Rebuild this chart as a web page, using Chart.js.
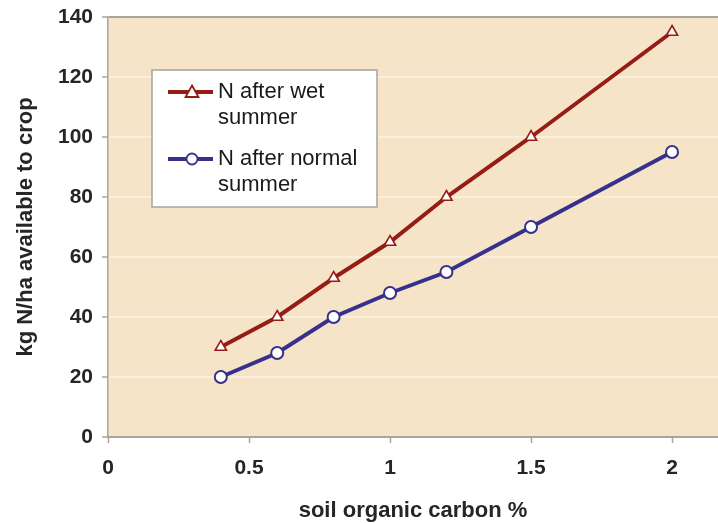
<!DOCTYPE html>
<html>
<head>
<meta charset="utf-8">
<title>Soil organic carbon and available N</title>
<script src="https://cdn.jsdelivr.net/npm/chart.js@4.4.1/dist/chart.umd.min.js"></script>
<style>
  html, body { margin: 0; padding: 0; background: #ffffff; }
  #wrap { width: 718px; height: 523px; }
</style>
</head>
<body>
<div id="wrap"><canvas id="c" width="718" height="523"></canvas></div>
<script>
// Soil organic carbon (%) at each sampling point
const carbon = [0.4, 0.6, 0.8, 1.0, 1.2, 1.5, 2.0];
// kg N/ha available to crop
const nAfterWet = [30, 40, 53, 65, 80, 100, 135];
const nAfterNormal = [20, 28, 40, 48, 55, 70, 95];

const seriesNames = [["N after wet", "summer"], ["N after normal", "summer"]];
const xTitle = "soil organic carbon %";
const yTitle = "kg N/ha available to crop";

const RED = "#961c16";
const BLUE = "#35318c";
const FONT = "'Liberation Sans', Arial, sans-serif";

const toPoints = (xs, ys) => xs.map((x, i) => ({ x, y: ys[i] }));

// Plot background and the boxed legend
const plotDecor = {
  id: "plotDecor",
  beforeDraw(chart) {
    const { ctx, chartArea: a } = chart;
    ctx.save();
    ctx.fillStyle = "#f6e4c8";
    ctx.fillRect(a.left, a.top, a.right - a.left, a.bottom - a.top);
    ctx.restore();
  },
  afterDraw(chart) {
    const { ctx, chartArea: a } = chart;
    const bx = a.left + 44, by = a.top + 53, bw = 225, bh = 137;
    ctx.save();
    ctx.fillStyle = "#ffffff";
    ctx.fillRect(bx, by, bw, bh);
    ctx.strokeStyle = "#a8a39b";
    ctx.lineWidth = 1.5;
    ctx.strokeRect(bx, by, bw, bh);

    const entries = [
      { color: RED, style: "triangle", y: by + 22 },
      { color: BLUE, style: "circle", y: by + 89 }
    ];
    entries.forEach((e, i) => {
      const lx0 = bx + 16, lx1 = bx + 61, mx = bx + 40;
      ctx.strokeStyle = e.color;
      ctx.lineWidth = 4;
      ctx.beginPath();
      ctx.moveTo(lx0, e.y);
      ctx.lineTo(lx1, e.y);
      ctx.stroke();
      ctx.fillStyle = "#ffffff";
      ctx.lineWidth = 1.8;
      ctx.beginPath();
      if (e.style === "circle") {
        ctx.arc(mx, e.y, 5.5, 0, Math.PI * 2);
      } else {
        ctx.moveTo(mx, e.y - 6.5);
        ctx.lineTo(mx + 6.5, e.y + 5);
        ctx.lineTo(mx - 6.5, e.y + 5);
        ctx.closePath();
      }
      ctx.fill();
      ctx.stroke();

      ctx.fillStyle = "#1a1a1a";
      ctx.font = "22px " + FONT;
      ctx.textAlign = "left";
      ctx.textBaseline = "middle";
      seriesNames[i].forEach((line, k) => {
        ctx.fillText(line, bx + 66, e.y + k * 25.5);
      });
    });
    ctx.restore();
  }
};

const AXIS_GRAY = "#a9a49c";

new Chart(document.getElementById("c"), {
  type: "line",
  data: {
    datasets: [
      {
        label: seriesNames[0].join(" "),
        data: toPoints(carbon, nAfterWet),
        borderColor: RED,
        backgroundColor: "#ffffff",
        borderWidth: 4,
        pointStyle: "triangle",
        pointRadius: 6.5,
        pointBorderWidth: 1.6,
        pointBorderColor: RED,
        pointBackgroundColor: "#ffffff",
        tension: 0
      },
      {
        label: seriesNames[1].join(" "),
        data: toPoints(carbon, nAfterNormal),
        borderColor: BLUE,
        backgroundColor: "#ffffff",
        borderWidth: 4,
        pointStyle: "circle",
        pointRadius: 6,
        pointBorderWidth: 2,
        pointBorderColor: BLUE,
        pointBackgroundColor: "#ffffff",
        tension: 0
      }
    ]
  },
  options: {
    responsive: false,
    devicePixelRatio: 1,
    animation: false,
    layout: { autoPadding: false, padding: { left: 0, right: 0, top: 17, bottom: 0 } },
    plugins: {
      legend: { display: false },
      tooltip: { enabled: false }
    },
    scales: {
      x: {
        type: "linear",
        min: 0,
        max: 2.163,
        afterFit(scale) {
          scale.height = 86;
          scale.paddingLeft = 0;
          scale.paddingRight = 0;
        },
        ticks: {
          stepSize: 0.5,
          includeBounds: false,
          padding: 13,
          color: "#262626",
          font: { family: FONT, size: 21, weight: "bold" },
          maxRotation: 0,
          callback: (v) => String(v)
        },
        grid: {
          drawOnChartArea: false,
          drawTicks: true,
          tickLength: 6,
          tickColor: AXIS_GRAY,
          tickWidth: 1.5
        },
        border: { display: true, color: AXIS_GRAY, width: 2 },
        title: {
          display: true,
          text: xTitle,
          color: "#262626",
          font: { family: FONT, size: 22, weight: "bold", lineHeight: 1 },
          padding: { top: 0, bottom: 1 }
        }
      },
      y: {
        type: "linear",
        min: 0,
        max: 140,
        afterFit(scale) {
          scale.width = 108;
          scale.paddingTop = 0;
          scale.paddingBottom = 0;
        },
        ticks: {
          stepSize: 20,
          padding: 9,
          color: "#262626",
          font: { family: FONT, size: 21, weight: "bold" }
        },
        grid: {
          drawTicks: true,
          tickLength: 6,
          tickColor: AXIS_GRAY,
          tickWidth: 1.5,
          lineWidth: 2,
          color: (c) => (c.tick && (c.tick.value === 140 || c.tick.value === 0) ? AXIS_GRAY : "#fbefdc")
        },
        border: { display: true, color: AXIS_GRAY, width: 1.5 },
        title: {
          display: true,
          text: yTitle,
          color: "#262626",
          font: { family: FONT, size: 22, weight: "bold", lineHeight: 1 },
          padding: { top: 15, bottom: 0 }
        }
      }
    }
  },
  plugins: [plotDecor]
});
</script>
</body>
</html>
